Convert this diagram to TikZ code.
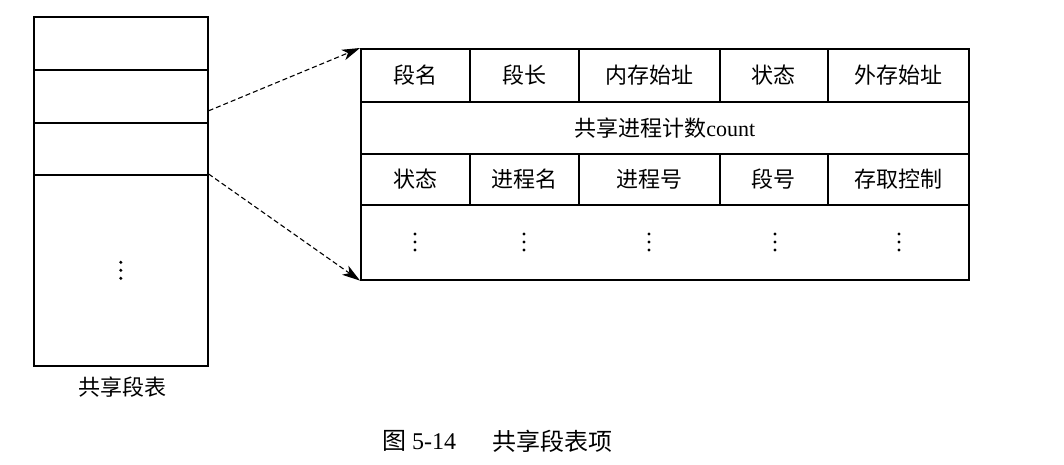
\documentclass[tikz,border=0pt]{standalone}
\usepackage{fontspec}
\setmainfont{Liberation Serif}
\newfontfamily\cjk{Noto Sans CJK SC}
\usetikzlibrary{arrows.meta,calc}
\tikzset{
  ptrtip/.tip={Stealth[length=18pt,width=11pt,inset=5pt]}
}
\begin{document}
\begin{tikzpicture}[x=1pt,y=-1pt,
  cell/.style={draw, line width=1.6pt, inner sep=0pt, anchor=north west,
    font=\fontsize{22}{26}\selectfont\cjk},
  conn/.style={line width=1.1pt, dash pattern=on 5pt off 3pt, arrows={-ptrtip}},
  lbl/.style={inner sep=0pt, font=\fontsize{22}{26}\selectfont\cjk},
  vdots/.pic={\foreach \d in {-8,0,8} \fill (0,\d) circle (1.7pt);}
]
\useasboundingbox (0,0) rectangle (1064,464);

% shared segment table
\node[cell, minimum width=174, minimum height=53]  (l1) at (33,16)  {};
\node[cell, minimum width=174, minimum height=53]  (l2) at (33,69)  {};
\node[cell, minimum width=174, minimum height=52]  (l3) at (33,122) {};
\node[cell, minimum width=174, minimum height=191] (l4) at (33,174) {};
\pic at (l4.center) {vdots};
\node[lbl] (lname) at (122,387) {共享段表};

% entry of the shared segment table
\node[cell, minimum width=109, minimum height=53] (r11) at (360,48) {段名};
\node[cell, minimum width=109, minimum height=53] (r12) at (469,48) {段长};
\node[cell, minimum width=141, minimum height=53] (r13) at (578,48) {内存始址};
\node[cell, minimum width=108, minimum height=53] (r14) at (719,48) {状态};
\node[cell, minimum width=141, minimum height=53] (r15) at (827,48) {外存始址};

\node[cell, minimum width=608, minimum height=52] (r2) at (360,101) {共享进程计数{\rmfamily count}};

\node[cell, minimum width=109, minimum height=51] (r31) at (360,153) {状态};
\node[cell, minimum width=109, minimum height=51] (r32) at (469,153) {进程名};
\node[cell, minimum width=141, minimum height=51] (r33) at (578,153) {进程号};
\node[cell, minimum width=108, minimum height=51] (r34) at (719,153) {段号};
\node[cell, minimum width=141, minimum height=51] (r35) at (827,153) {存取控制};

\node[cell, minimum width=608, minimum height=75] (r4) at (360,204) {};
\foreach \x in {415,524,649,775,899} \pic at (\x,242) {vdots};

% pointers from the table to the entry
\draw[conn] ([yshift=-14.5pt]l2.east) -- (r11.north west);
\draw[conn] (l4.north east) -- (r4.south west);

% caption
\node[inner sep=0pt, anchor=west, font=\fontsize{24}{28}\selectfont] (cap1) at (382,441) {{\cjk 图} 5-14};
\node[inner sep=0pt, anchor=west, font=\fontsize{24}{28}\selectfont\cjk] (cap2) at (492,441) {共享段表项};
\end{tikzpicture}
\end{document}
